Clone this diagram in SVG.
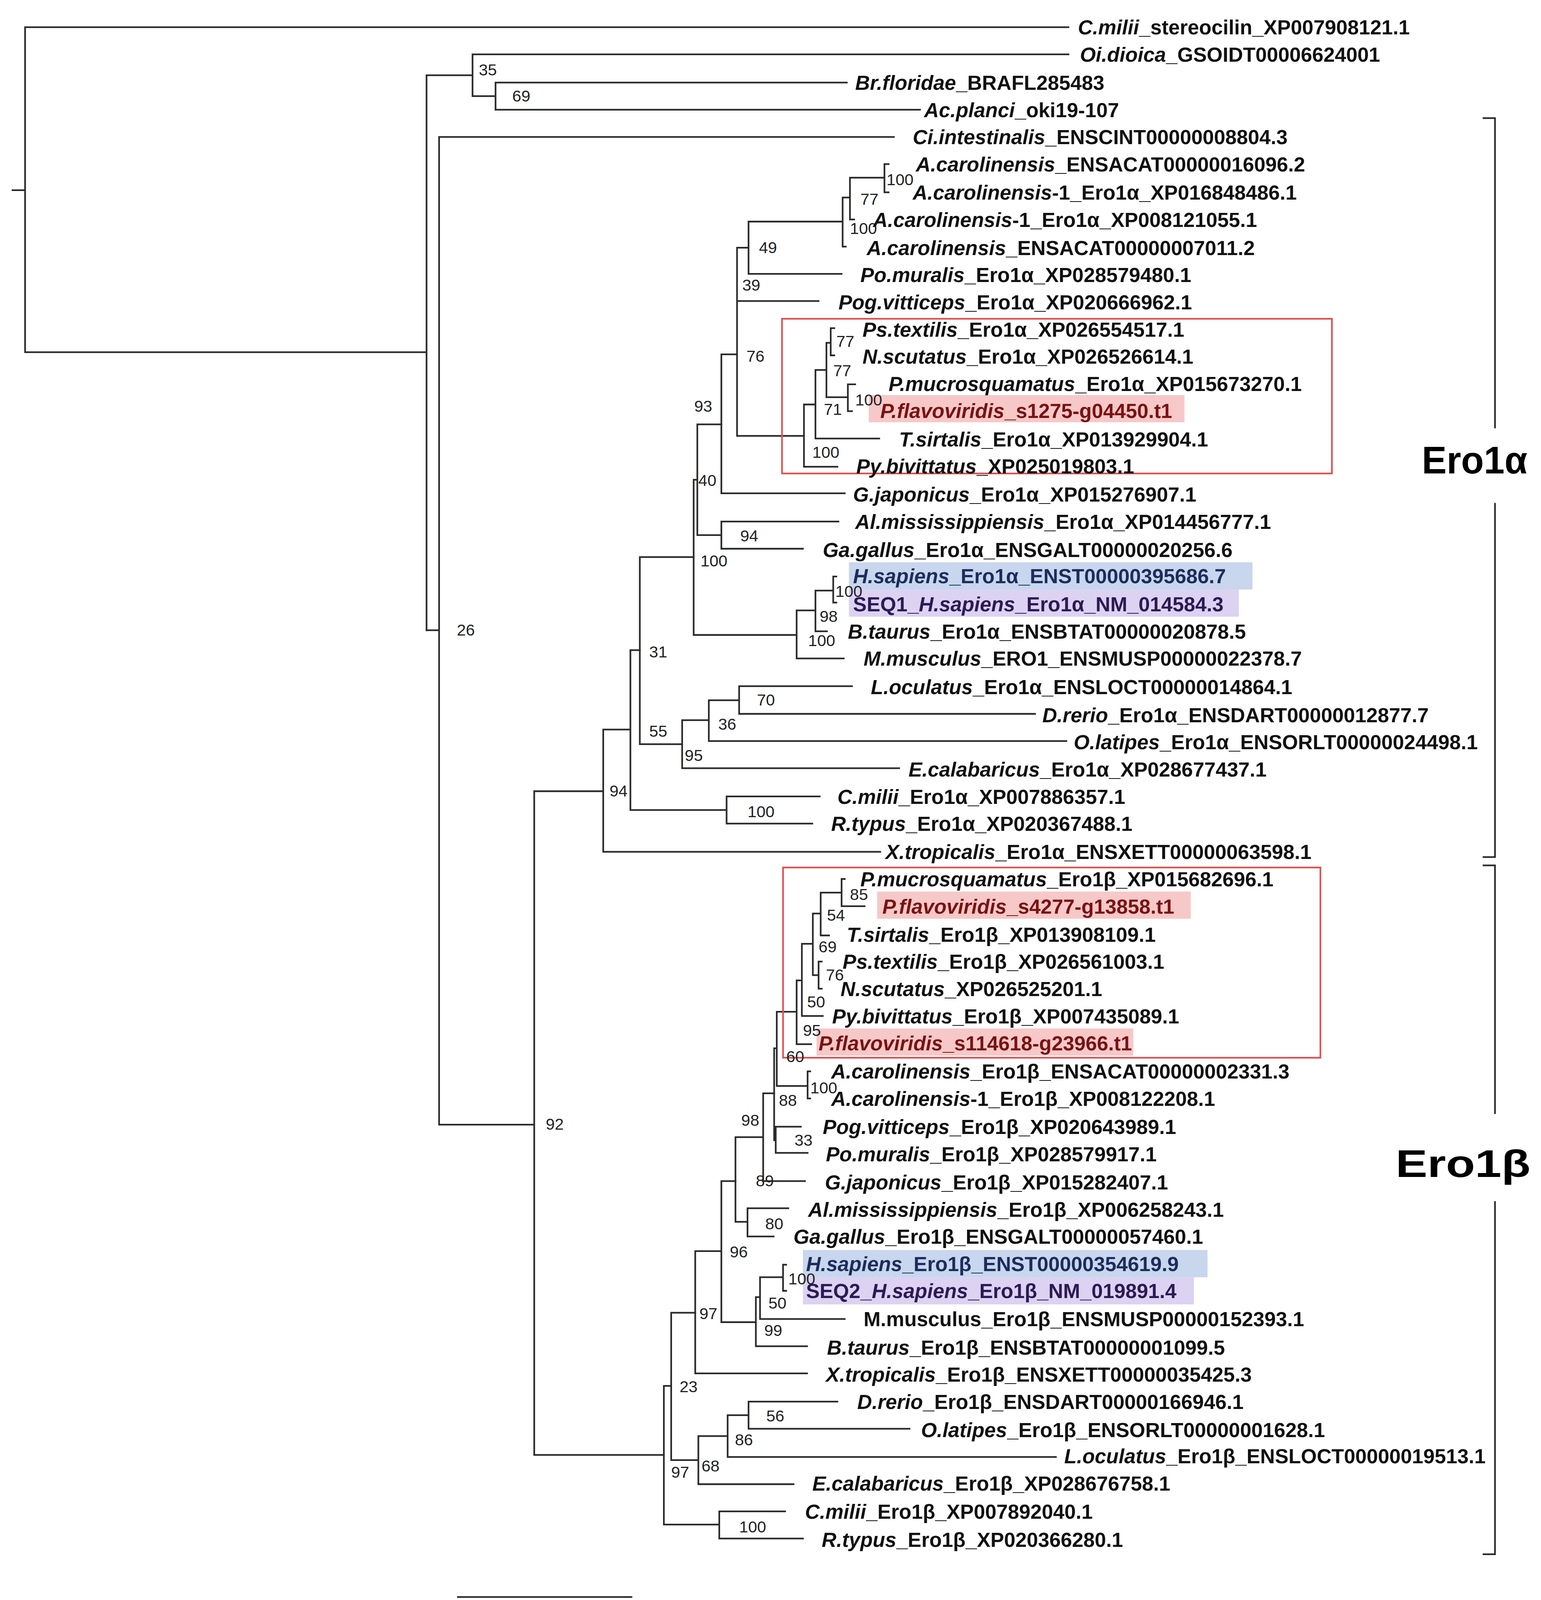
<svg xmlns="http://www.w3.org/2000/svg" width="3944" height="4195" viewBox="0 0 3944 4195">
<style>
.l{font-family:"Liberation Sans",Arial,sans-serif;font-weight:bold;font-size:19.5px;fill:#111}
.i{font-style:italic}
.n{font-family:"Liberation Sans",Arial,sans-serif;font-size:15.5px;fill:#222}
.e{stroke:#2a2a2a;stroke-width:1.6;fill:none;stroke-linecap:square}
.rb{fill:none;stroke:#e0504f;stroke-width:1.6}
.red{fill:#7a1212}
.blu{fill:#1c2c5c}
.pur{fill:#2c1a54}
.big{font-family:"Liberation Sans",Arial,sans-serif;font-weight:bold;font-size:37px;fill:#000}
</style>
<rect width="3944" height="4195" fill="#fff"/>
<g transform="scale(2.6757)">
<g id="highlights">
<rect x="831" y="378" width="302" height="26" fill="#f7c8c8"/>
<rect x="812" y="538" width="386" height="26" fill="#c8d6ee"/>
<rect x="812" y="564" width="373" height="26" fill="#dcd2f2"/>
<rect x="839" y="853" width="300" height="26" fill="#f7c8c8"/>
<rect x="781" y="984" width="303" height="26" fill="#f7c8c8"/>
<rect x="768" y="1196" width="387" height="26" fill="#c8d6ee"/>
<rect x="768" y="1222" width="374" height="26" fill="#dcd2f2"/>
</g>
<g id="connectors" class="e">
<path d="M12 182H24M24 26V337M24 26H1022M24 337H408M408 72V603M408 72H452M452 52V92M452 52H1022M452 92H474M474 79V105M474 79H810M474 105H880"/>
<path d="M408 603H420M420 131V1076M420 131H855M420 1076H511M511 757V1392M511 757H577M511 1392H635"/>
<path d="M577 698V815M577 815H842M577 698H603M603 622V775M603 622H612M603 775H695M695 762V788M695 762H784M695 788H777"/>
<path d="M612 533V712M612 533H663.5M612 712H652.5M652.5 689V735M652.5 735H860M652.5 689H678M678 670V709M678 709H1020M678 670H707M707 656.5V683M707 656.5H815M707 683H990"/>
<path d="M663.5 459V607.5M663.5 459H667M663.5 607.5H762M667 406V512M667 406H690M667 512H690M690 499V525M690 499H802M690 525H768"/>
<path d="M690 339V472M690 472H808M690 339H705M705 237V417M705 288H783M705 237H716M705 417H769"/>
<path d="M716 212V262M716 262H805M716 212H806M806 189V236M806 236H809M806 189H813M813 170V210M813 210H817M813 170H846M846 157V184M846 157H850M846 184H850"/>
<path d="M769 387V446.6M769 446.6H801M769 387H780M780 354V419.6M780 419.6H841M780 354H790.5M790.5 328V380M790.5 328H794.6M790.5 380H811M794.6 314V340M794.6 314H798M794.6 340H798M811 367.7V393.4M811 367.7H818M811 393.4H815"/>
<path d="M762 584V630M762 630H807M762 584H780M780 565V604M780 604H791M780 565H797M797 551.6V576.5M797 551.6H800M797 576.5H800"/>
<path d="M635 1326V1458.6M635 1326H642M635 1458.6H688M688 1446V1472M688 1446H751M688 1472H768"/>
<path d="M642 1256V1397M642 1256H665M642 1397H668M668 1374V1420M668 1420H759M668 1374H696M696 1354V1394M696 1394H1010M696 1354H716M716 1341V1367M716 1341H801M716 1367H870"/>
<path d="M665 1197V1314M665 1314H772M665 1197H690M690 1130V1265M690 1265H723M690 1130H703.5M723 1241V1288M723 1288H772M723 1241H727M727 1222V1262M727 1262H808M727 1222H749M749 1210V1235M749 1210H752M749 1235H752"/>
<path d="M703.5 1088V1169M703.5 1169H715M703.5 1088H730M715 1156V1183M715 1156H754M715 1183H740M730 1046V1130M730 1130H770M730 1046H740.5"/>
<path d="M740.5 1003V1091M740.5 1003H743M740.5 1091H742M742 1078V1103M742 1078H766M742 1103H772.5M743 968V1039M743 968H762M743 1039H772.5M772.5 1025V1051M772.5 1025H775M772.5 1051H775"/>
<path d="M762 938V999M762 999H776M762 938H767M767 903V972M767 972H787M767 903H777.5M777.5 874V933M777.5 874H785M777.5 933H783M783 920V946M783 920H786M783 946H786M785 854V895M785 895H793M785 854H805M805 841V867M805 867H827M805 841H808"/>
<path d="M438 1528H604"/>
<path d="M1419 113H1430V409M1430 482V820H1419M1419 828H1430V1065M1430 1150V1487H1419"/>
</g>
<g id="boxes">
<rect class="rb" x="748" y="305" width="526" height="148"/>
<rect class="rb" x="749" y="830" width="514" height="182"/>
</g>
<g id="support" class="n">
<text x="458" y="72">35</text><text x="490" y="97">69</text><text x="437" y="608">26</text><text x="522" y="1081">92</text>
<text x="583" y="762">94</text><text x="715" y="782">100</text><text x="621" y="629">31</text><text x="621" y="705">55</text><text x="655" y="728">95</text><text x="687" y="698">36</text><text x="724" y="675">70</text>
<text x="668" y="465">40</text><text x="670" y="542">100</text><text x="664" y="394">93</text><text x="708" y="518">94</text><text x="714" y="346">76</text><text x="710" y="278">39</text><text x="726" y="242">49</text>
<text x="813" y="224">100</text><text x="823" y="196">77</text><text x="848" y="177">100</text><text x="777" y="438">100</text><text x="788" y="397">71</text><text x="797" y="360">77</text><text x="800" y="332">77</text><text x="818" y="388">100</text>
<text x="773" y="618">100</text><text x="784" y="595">98</text><text x="799" y="571">100</text>
<text x="650" y="1332">23</text><text x="642" y="1414">97</text><text x="707" y="1466">100</text><text x="671" y="1408">68</text><text x="703" y="1383">86</text><text x="733" y="1360">56</text>
<text x="669" y="1262">97</text><text x="698" y="1203">96</text><text x="731" y="1278">99</text><text x="735" y="1252">50</text><text x="754" y="1229">100</text><text x="709" y="1077">98</text><text x="732" y="1176">80</text><text x="723" y="1135">89</text>
<text x="745" y="1058">88</text><text x="760" y="1096">33</text><text x="752" y="1016">60</text><text x="775" y="1046">100</text><text x="768" y="991">95</text><text x="772" y="964">50</text><text x="783" y="911">69</text><text x="790" y="938">76</text><text x="791" y="881">54</text><text x="813" y="861">85</text>
<text x="504" y="1547">0.09</text>
</g>
<g id="leaves" class="l">
<g id="n1"><text x="1031" y="33"><tspan class="i">C.milii</tspan>_stereocilin_XP007908121.1</text></g>
<g id="n2"><text x="1033" y="59"><tspan class="i">Oi.dioica</tspan>_GSOIDT00006624001</text></g>
<g id="n3"><text x="818" y="86"><tspan class="i">Br.floridae</tspan>_BRAFL285483</text></g>
<g id="n4"><text x="884" y="112"><tspan class="i">Ac.planci</tspan>_oki19-107</text></g>
<g id="n5"><text x="873" y="138"><tspan class="i">Ci.intestinalis</tspan>_ENSCINT00000008804.3</text></g>
<g id="n6"><text x="876" y="164"><tspan class="i">A.carolinensis</tspan>_ENSACAT00000016096.2</text></g>
<g id="n7"><text x="873" y="191"><tspan class="i">A.carolinensis</tspan>-1_Ero1α_XP016848486.1</text></g>
<g id="n8"><text x="835" y="217"><tspan class="i">A.carolinensis</tspan>-1_Ero1α_XP008121055.1</text></g>
<g id="n9"><text x="829" y="244"><tspan class="i">A.carolinensis</tspan>_ENSACAT00000007011.2</text></g>
<g id="n10"><text x="823" y="270"><tspan class="i">Po.muralis</tspan>_Ero1α_XP028579480.1</text></g>
<g id="n11"><text x="802" y="296"><tspan class="i">Pog.vitticeps</tspan>_Ero1α_XP020666962.1</text></g>
<g id="n12"><text x="825" y="322"><tspan class="i">Ps.textilis</tspan>_Ero1α_XP026554517.1</text></g>
<g id="n13"><text x="825" y="348"><tspan class="i">N.scutatus</tspan>_Ero1α_XP026526614.1</text></g>
<g id="n14"><text x="850" y="374"><tspan class="i">P.mucrosquamatus</tspan>_Ero1α_XP015673270.1</text></g>
<g id="n15"><text class="red" x="842" y="400"><tspan class="i">P.flavoviridis</tspan>_s1275-g04450.t1</text></g>
<g id="n16"><text x="860" y="427"><tspan class="i">T.sirtalis</tspan>_Ero1α_XP013929904.1</text></g>
<g id="n17"><text x="819" y="453"><tspan class="i">Py.bivittatus</tspan>_XP025019803.1</text></g>
<g id="n18"><text x="816" y="480"><tspan class="i">G.japonicus</tspan>_Ero1α_XP015276907.1</text></g>
<g id="n19"><text x="818" y="506"><tspan class="i">Al.mississippiensis</tspan>_Ero1α_XP014456777.1</text></g>
<g id="n20"><text x="787" y="533"><tspan class="i">Ga.gallus</tspan>_Ero1α_ENSGALT00000020256.6</text></g>
<g id="n21"><text class="blu" x="816" y="558"><tspan class="i">H.sapiens</tspan>_Ero1α_ENST00000395686.7</text></g>
<g id="n22"><text class="pur" x="816" y="585">SEQ1_<tspan class="i">H.sapiens</tspan>_Ero1α_NM_014584.3</text></g>
<g id="n23"><text x="811" y="611"><tspan class="i">B.taurus</tspan>_Ero1α_ENSBTAT00000020878.5</text></g>
<g id="n24"><text x="826" y="637"><tspan class="i">M.musculus</tspan>_ERO1_ENSMUSP00000022378.7</text></g>
<g id="n25"><text x="833" y="664"><tspan class="i">L.oculatus</tspan>_Ero1α_ENSLOCT00000014864.1</text></g>
<g id="n26"><text x="997" y="691"><tspan class="i">D.rerio</tspan>_Ero1α_ENSDART00000012877.7</text></g>
<g id="n27"><text x="1027" y="717"><tspan class="i">O.latipes</tspan>_Ero1α_ENSORLT00000024498.1</text></g>
<g id="n28"><text x="869" y="743"><tspan class="i">E.calabaricus</tspan>_Ero1α_XP028677437.1</text></g>
<g id="n29"><text x="801" y="769"><tspan class="i">C.milii</tspan>_Ero1α_XP007886357.1</text></g>
<g id="n30"><text x="795" y="795"><tspan class="i">R.typus</tspan>_Ero1α_XP020367488.1</text></g>
<g id="n31"><text x="847" y="822"><tspan class="i">X.tropicalis</tspan>_Ero1α_ENSXETT00000063598.1</text></g>
<g id="n32"><text x="823" y="848"><tspan class="i">P.mucrosquamatus</tspan>_Ero1β_XP015682696.1</text></g>
<g id="n33"><text class="red" x="844" y="874"><tspan class="i">P.flavoviridis</tspan>_s4277-g13858.t1</text></g>
<g id="n34"><text x="810" y="901"><tspan class="i">T.sirtalis</tspan>_Ero1β_XP013908109.1</text></g>
<g id="n35"><text x="806" y="927"><tspan class="i">Ps.textilis</tspan>_Ero1β_XP026561003.1</text></g>
<g id="n36"><text x="804" y="953"><tspan class="i">N.scutatus</tspan>_XP026525201.1</text></g>
<g id="n37"><text x="796" y="979"><tspan class="i">Py.bivittatus</tspan>_Ero1β_XP007435089.1</text></g>
<g id="n38"><text class="red" x="783" y="1005"><tspan class="i">P.flavoviridis</tspan>_s114618-g23966.t1</text></g>
<g id="n39"><text x="795" y="1032"><tspan class="i">A.carolinensis</tspan>_Ero1β_ENSACAT00000002331.3</text></g>
<g id="n40"><text x="795" y="1058"><tspan class="i">A.carolinensis</tspan>-1_Ero1β_XP008122208.1</text></g>
<g id="n41"><text x="787" y="1085"><tspan class="i">Pog.vitticeps</tspan>_Ero1β_XP020643989.1</text></g>
<g id="n42"><text x="790" y="1111"><tspan class="i">Po.muralis</tspan>_Ero1β_XP028579917.1</text></g>
<g id="n43"><text x="789" y="1138"><tspan class="i">G.japonicus</tspan>_Ero1β_XP015282407.1</text></g>
<g id="n44"><text x="773" y="1164"><tspan class="i">Al.mississippiensis</tspan>_Ero1β_XP006258243.1</text></g>
<g id="n45"><text x="759" y="1190"><tspan class="i">Ga.gallus</tspan>_Ero1β_ENSGALT00000057460.1</text></g>
<g id="n46"><text class="blu" x="771" y="1216"><tspan class="i">H.sapiens</tspan>_Ero1β_ENST00000354619.9</text></g>
<g id="n47"><text class="pur" x="771" y="1242">SEQ2_<tspan class="i">H.sapiens</tspan>_Ero1β_NM_019891.4</text></g>
<g id="n48"><text x="826" y="1269">M.musculus_Ero1β_ENSMUSP00000152393.1</text></g>
<g id="n49"><text x="791" y="1296"><tspan class="i">B.taurus</tspan>_Ero1β_ENSBTAT00000001099.5</text></g>
<g id="n50"><text x="790" y="1322"><tspan class="i">X.tropicalis</tspan>_Ero1β_ENSXETT00000035425.3</text></g>
<g id="n51"><text x="820" y="1348"><tspan class="i">D.rerio</tspan>_Ero1β_ENSDART00000166946.1</text></g>
<g id="n52"><text x="881" y="1375"><tspan class="i">O.latipes</tspan>_Ero1β_ENSORLT00000001628.1</text></g>
<g id="n53"><text x="1018" y="1400"><tspan class="i">L.oculatus</tspan>_Ero1β_ENSLOCT00000019513.1</text></g>
<g id="n54"><text x="777" y="1426"><tspan class="i">E.calabaricus</tspan>_Ero1β_XP028676758.1</text></g>
<g id="n55"><text x="770" y="1453"><tspan class="i">C.milii</tspan>_Ero1β_XP007892040.1</text></g>
<g id="n56"><text x="786" y="1480"><tspan class="i">R.typus</tspan>_Ero1β_XP020366280.1</text></g>
</g>
<g id="clades">
<text class="big" x="1360" y="453" textLength="101" lengthAdjust="spacingAndGlyphs">Ero1α</text>
<text class="big" x="1335" y="1126" textLength="129" lengthAdjust="spacingAndGlyphs">Ero1β</text>
</g>
</g>
</svg>
